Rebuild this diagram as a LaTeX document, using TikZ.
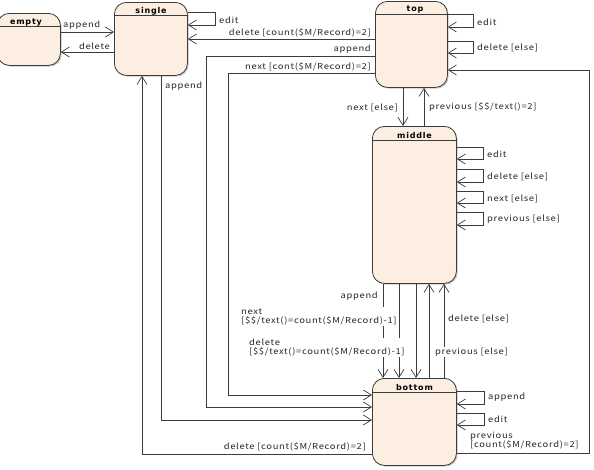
\documentclass[tikz,border=0pt]{standalone}
\usepackage{fontspec}
\usetikzlibrary{arrows.meta,shadows}
\newfontfamily\lblfont[FakeStretch=1.15,LetterSpace=8]{Noto Sans CJK JP}
\newfontfamily\ttlfont[LetterSpace=10]{DejaVu Sans}
\definecolor{stfill}{RGB}{252,238,224}
\definecolor{ln}{RGB}{60,60,60}
\tikzset{
  st/.style={draw=ln, line width=0.8pt, fill=stfill, rounded corners=12pt, anchor=north west, inner sep=0pt,
    drop shadow={shadow xshift=1.2pt, shadow yshift=-1.2pt, fill=black!45}},
  ttl/.style={font=\ttlfont\bfseries\fontsize{8}{9}\selectfont, inner sep=0pt, anchor=base},
  div/.style={draw=ln, line width=0.7pt},
  arr/.style={draw=ln, line width=0.7pt, -{Straight Barb[length=8pt,width=10pt,line width=0.7pt]}},
  lbl/.style={font=\lblfont\fontsize{8.2}{10}\selectfont, inner sep=1pt, text=black!85},
  lblw/.style={lbl, fill=white},
}
\begin{document}
\begin{tikzpicture}[x=1pt,y=-1pt]
\useasboundingbox (0,0) rectangle (594,469);
% states
\node[st, minimum width=63pt, minimum height=52pt] (empty) at (-3,13) {};
\node[st, minimum width=73pt, minimum height=73pt] (single) at (114,2) {};
\node[st, minimum width=72pt, minimum height=86pt] (top) at (375,1) {};
\node[st, minimum width=84pt, minimum height=157pt] (middle) at (372,126) {};
\node[st, minimum width=84pt, minimum height=87pt] (bottom) at (372,378) {};
\draw[div] (empty.west |- 0,26.5) -- (empty.east |- 0,26.5);
\draw[div] (single.west |- 0,15) -- (single.east |- 0,15);
\draw[div] (top.west |- 0,14) -- (top.east |- 0,14);
\draw[div] (middle.west |- 0,140) -- (middle.east |- 0,140);
\draw[div] (bottom.west |- 0,392) -- (bottom.east |- 0,392);
\node[ttl] (tempty) at (26,24.5) {empty};
\node[ttl] (tsingle) at (151,13) {single};
\node[ttl] (ttop) at (415,11.5) {top};
\node[ttl] (tmiddle) at (414.5,138) {middle};
\node[ttl] (tbottom) at (414.5,390.5) {bottom};
% empty <-> single
\draw[arr] (empty.east |- 0,32) -- (single.west |- 0,32);
\draw[arr] (single.west |- 0,52) -- (empty.east |- 0,52);
\node[lbl, anchor=west] (l1) at (62,25.5) {append};
\node[lbl, anchor=east] (l2) at (111,46) {delete};
% single loop
\draw[arr] (single.east |- 0,12) -- (215,12) -- (215,25) -- (single.east |- 0,25);
\node[lbl, anchor=west] (l3) at (218,20) {edit};
% top -> single
\draw[arr] (top.west |- 0,39) -- (single.east |- 0,39);
\node[lbl, anchor=east] (l4) at (372,32.5) {delete [count(\$M/Record)=2]};
% top -> bottom
\draw[arr] (top.west |- 0,56) -- (206,56) -- (206,407) -- (bottom.west |- 0,407);
\node[lbl, anchor=east] (l5) at (372,49.5) {append};
\draw[arr] (top.west |- 0,73) -- (228,73) -- (228,395) -- (bottom.west |- 0,395);
\node[lbl, anchor=east] (l6) at (372,66.5) {next [cont(\$M/Record)=2]};
% single <-> bottom
\draw[arr] (single.south -| 161,0) -- (161,420) -- (bottom.west |- 0,420);
\node[lbl, anchor=west] (l7) at (164,86) {append};
\draw[arr] (bottom.west |- 0,454) -- (142,454) -- (single.south -| 142,0);
\node[lbl, anchor=east] (l8) at (367,447) {delete [count(\$M/Record)=2]};
% top loops
\draw[arr] (top.east |- 0,14) -- (473,14) -- (473,27) -- (top.east |- 0,27);
\node[lbl, anchor=west] (l9) at (476,22) {edit};
\draw[arr] (top.east |- 0,41) -- (473,41) -- (473,53) -- (top.east |- 0,53);
\node[lbl, anchor=west] (l10) at (476,48) {delete [else]};
% bottom -> top
\draw[arr] (bottom.east |- 0,453) -- (589,453) -- (589,70) -- (top.east |- 0,70);
\node[lbl, anchor=west, align=left] (l11) at (469,441) {previous\\[-1pt][count(\$M/Record)=2]};
% top <-> middle
\draw[arr] (top.south -| 403,0) -- (middle.north -| 403,0);
\node[lbl, anchor=east] (l12) at (399,107.5) {next [else]};
\draw[arr] (middle.north -| 424,0) -- (top.south -| 424,0);
\node[lbl, anchor=west] (l13) at (428,107.5) {previous [\$\$/text()=2]};
% middle loops
\draw[arr] (middle.east |- 0,147) -- (483,147) -- (483,159) -- (middle.east |- 0,159);
\node[lbl, anchor=west] (l14) at (486,154) {edit};
\draw[arr] (middle.east |- 0,169) -- (483,169) -- (483,182) -- (middle.east |- 0,182);
\node[lbl, anchor=west] (l15) at (486,177) {delete [else]};
\draw[arr] (middle.east |- 0,191) -- (483,191) -- (483,203) -- (middle.east |- 0,203);
\node[lbl, anchor=west] (l16) at (486,199) {next [else]};
\draw[arr] (middle.east |- 0,212) -- (483,212) -- (483,225) -- (middle.east |- 0,225);
\node[lbl, anchor=west] (l17) at (486,219) {previous [else]};
% middle <-> bottom
\draw[arr] (middle.south -| 383,0) -- (bottom.north -| 383,0);
\draw[arr] (middle.south -| 399,0) -- (bottom.north -| 399,0);
\draw[arr] (middle.south -| 416,0) -- (bottom.north -| 416,0);
\draw[arr] (bottom.north -| 429,0) -- (middle.south -| 429,0);
\draw[arr] (bottom.north -| 444,0) -- (middle.south -| 444,0);
\node[lbl, anchor=east] (l18) at (379,296) {append};
\node[lblw, anchor=west, align=left] (l19) at (240,316.5) {next\\[-1pt][\$\$/text()=count(\$M/Record)-1]};
\node[lblw, anchor=west, align=left] (l20) at (248,347.5) {delete\\[-1pt][\$\$/text()=count(\$M/Record)-1]};
\node[lbl, anchor=west] (l21) at (447,319) {delete [else]};
\node[lblw, anchor=west] (l22) at (434,352) {previous [else]};
% bottom loops
\draw[arr] (bottom.east |- 0,391) -- (484,391) -- (484,404) -- (bottom.east |- 0,404);
\node[lbl, anchor=west] (l23) at (487,397) {append};
\draw[arr] (bottom.east |- 0,413) -- (484,413) -- (484,425) -- (bottom.east |- 0,425);
\node[lbl, anchor=west] (l24) at (487,419) {edit};
\end{tikzpicture}
\end{document}
